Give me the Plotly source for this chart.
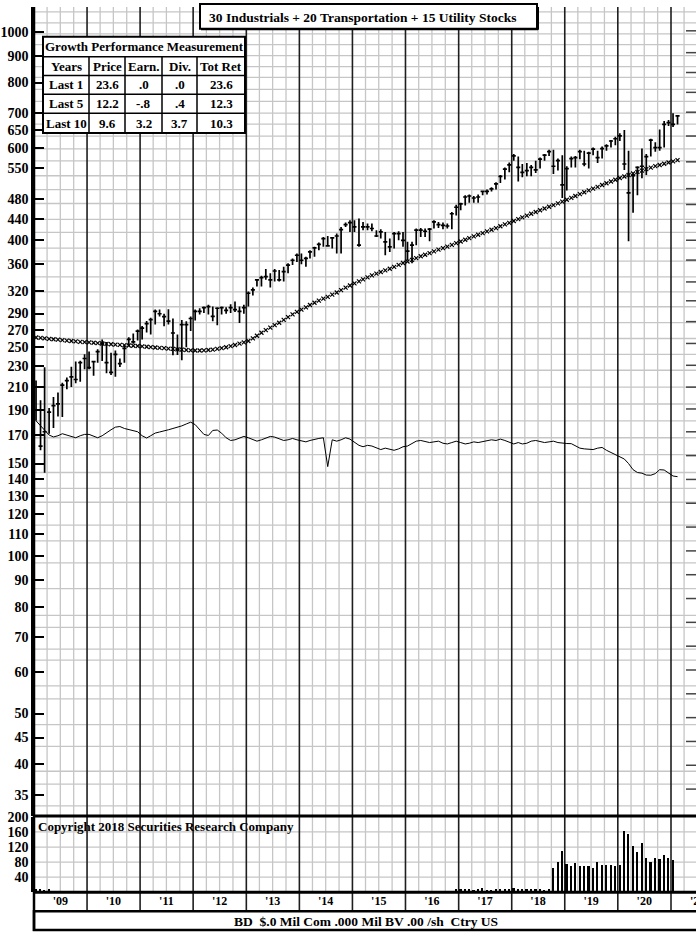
import plotly.graph_objects as go
import pandas as pd

# ---------------- data (monthly, Jan 2009 .. Feb 2021) ----------------
HIGH = [
    216, 198, 229, 191.5, 201, 205, 214, 219, 229.6, 234.8, 235.6, 242.4,          # 2009
    245.3, 235.6, 247.8, 258.8, 256, 244, 246.6, 238, 252.4, 261.3, 265.6, 270.3,  # 2010
    274.4, 280.5, 284.5, 295, 295, 289.7, 295.6, 283.7, 264.5, 281.8, 280.2, 286.1,  # 2011
    295, 296.8, 299.2, 301.3, 299.2, 298, 299.2, 298, 302.2, 305.8, 299.2, 301.3,  # 2012
    319.5, 325.1, 337.6, 342.5, 352.6, 346.1, 352.6, 351, 356.2, 361.5, 369.4, 377.6,  # 2013
    377.6, 372.2, 383.1, 388.7, 396.3, 406, 407.7, 406, 412.1, 424.2, 432.4, 436.8,  # 2014
    436.8, 440.3, 433.6, 430.5, 430.5, 418.3, 420.1, 415, 403, 415, 416.3, 415,  # 2015
    397.3, 397.3, 421.3, 422.4, 421.3, 422.4, 436.8, 433.6, 432.4, 430.5, 452.8, 467.6,  # 2016
    471.7, 487.6, 489.2, 486, 489.2, 498, 500.1, 505, 516.1, 533, 551, 563.2,  # 2017
    584.2, 578, 559.4, 561.8, 557, 567.6, 575.3, 584.2, 595.7, 595.7, 572.8, 581.4,  # 2018
    553.9, 578, 579.5, 595.7, 593.1, 590.5, 601.3, 593.1, 603.9, 610.1, 621.5, 630.4,  # 2019
    640.1, 649.3, 593.1, 535.5, 553.9, 598.6, 584.2, 625, 615.2, 651.2, 675.6, 678.7,  # 2020
    699.4, 693.1,  # 2021
]
LOW = [
    181, 159, 144, 171, 175.4, 184.4, 184, 208, 210, 213.4, 214.9, 227,
    227, 220.5, 233.7, 235.4, 223, 221.4, 219.6, 229.3, 233.7, 251.2, 254, 257.6,
    258.8, 266.7, 264.5, 276.3, 286.1, 274.2, 276.3, 241.3, 241.8, 236.1, 250, 268.5,
    281.2, 288.8, 290.6, 288.8, 280.2, 275.4, 288.8, 289.7, 290.6, 292, 278.3, 289.7,
    299.2, 314, 326.5, 326.5, 336.2, 325.1, 333.7, 333.7, 333.7, 346.1, 358.8, 363.8,
    359.9, 356.2, 369.4, 372.2, 383.1, 388.7, 388.7, 385.7, 377.6, 377.6, 424.2, 415,
    415, 388.7, 418.3, 418.3, 416.3, 406, 403, 374.6, 380.1, 385.7, 400, 388.7,
    366.5, 361.5, 391.6, 406, 406, 398.5, 421.3, 422.4, 420.1, 421.3, 420.1, 446.3,
    456.3, 466.1, 471.7, 471.7, 471.7, 487.6, 489.2, 495.8, 500.1, 514.7, 522.6, 539.4,
    567.6, 518.2, 527.6, 530.3, 530.3, 537.9, 548.2, 567.6, 579.5, 535.5, 543.5, 481.8,
    498, 551, 551, 571.4, 553.9, 548.2, 581.4, 561.8, 572.8, 593.1, 601.3, 607.5,
    618.9, 545, 398.5, 451.4, 487.6, 525.2, 533, 578, 590.5, 593.1, 601.3, 660.7,
    658.1, 665.6,
]
CLOSE = [
    190, 162, 172.5, 188, 193.5, 195, 211.8, 216, 219.6, 217, 233.7, 238,
    228.6, 234.8, 245.3, 254, 233.7, 224, 242.4, 232.7, 248.8, 258.8, 256, 268.5,
    272, 277.5, 282.4, 292.8, 289.7, 286, 280.5, 266.2, 247.8, 276.3, 276.3, 283.7,
    292.8, 292.8, 297.7, 298.8, 286.5, 296.8, 297.7, 294, 297.7, 295, 292.8, 297.7,
    317, 321.8, 336.2, 339.6, 341.1, 336.2, 349.6, 336.2, 348.6, 358.8, 366.5, 374.6,
    366.5, 369.4, 380.1, 387, 392.9, 403, 390.4, 404.3, 407.7, 419.4, 428.5, 432.4,
    424.2, 391.6, 424.2, 424.2, 421.3, 407.7, 415, 397.3, 388.7, 412.1, 412.1, 400,
    381.3, 391.6, 418.3, 418.3, 416.3, 420.1, 433.6, 428.5, 427.2, 426, 449.5, 462.6,
    469.5, 483.9, 486, 481.8, 483.9, 495.8, 495.8, 501.6, 512.5, 529.7, 546.7, 557,
    579.5, 551, 539.4, 543.5, 551, 545, 571.4, 581.4, 590.5, 553.9, 567.6, 510.3,
    548.2, 572.8, 575.3, 590.5, 559.4, 586.9, 597, 575.3, 598.6, 605.7, 618.9, 625,
    632.9, 559.4, 492.8, 531.4, 551, 553.9, 578, 621.5, 601.3, 601.3, 665.6, 671,
    665.6, 691,
]
MOVING_AVG = [
    261, 260.5, 260, 259.5, 259, 258.5, 258, 257.5, 257, 256.5, 256, 255.7,
    255.5, 255, 254.6, 254.2, 253.8, 253.4, 253, 252.7, 252.4, 252, 251.7, 251.4,
    251, 250.6, 250.2, 249.8, 249.4, 249, 248.6, 248.2, 247.8, 247.4, 247, 246.7,
    246.5, 246.5, 246.7, 247, 247.5, 248.2, 249, 250, 251.2, 252.5, 254, 255.5,
    257, 260, 263, 266.5, 269.5, 272.5, 275.5, 278.5, 282, 285.5, 289, 292,
    295, 298, 301, 304, 307, 309.5, 312, 315, 318, 321.5, 325, 328,
    331, 334, 337, 340, 343, 345.5, 348, 350.5, 353, 356, 359, 362,
    364.5, 367, 370, 373, 375.5, 378, 381, 384, 386.5, 389, 392, 395,
    398, 401, 404, 407, 410, 413, 416, 419, 422, 425.5, 429, 432,
    435.5, 439, 442.5, 446, 449.5, 453, 456.5, 460, 463.5, 467, 470.5, 474,
    478, 482, 486, 490, 494, 498, 502, 506, 510, 514, 518, 522,
    526, 529.5, 533, 536.5, 540, 543.5, 547, 550.5, 554, 557, 560, 563,
    566, 569,
]
REL_STRENGTH = [
    181, 177, 173, 170, 168.6, 169.5, 171, 170, 168.5, 168, 169.5, 170.5,
    170.5, 169, 168, 169.5, 172, 174, 176, 176.5, 175, 174, 173.5, 172.5,
    169.5, 167.8, 169.5, 171.5, 172.3, 173, 174, 175, 175.8, 177, 178.5, 179.9,
    178, 174, 170.5, 169.7, 173.5, 173.8, 171.4, 168, 166, 166.5, 168, 169,
    168, 166.5, 165.5, 166.5, 168, 169, 168.5, 167, 166, 166.5, 167.5, 166.5,
    165.5, 165, 166, 167, 167.5, 168, 148, 166.5, 165.5, 166.5, 168, 167,
    165, 162.5, 161.5, 162.5, 162, 160.5, 159.5, 160.5, 160, 159, 160, 161.5,
    162, 164, 165.5, 166, 165.5, 164.5, 165, 165.5, 164, 163.5, 164.5, 165.5,
    164.5, 163.5, 164, 165, 164.5, 165, 166, 166.5, 166, 167, 166, 164.5,
    163.5, 164.5, 163.5, 164, 165.5, 166, 165, 164.5, 165, 165.5, 164.5, 164,
    163.8, 163.7, 162, 160.5, 160, 159.8, 159.5, 160.5, 161, 159, 157.5, 156,
    154.5, 153, 150, 146, 144.2, 143.8, 142.6, 142.5, 143.5, 146, 145.8, 144,
    142, 141.6,
]
VOLUME = [
    8, 10, 7, 9, 5, 3, 3, 4, 3, 3, 3, 3,
    3, 3, 2, 3, 3, 3, 2, 3, 3, 3, 3, 2,
    3, 3, 3, 2, 3, 3, 3, 3, 2, 3, 3, 3,
    3, 2, 3, 3, 3, 3, 2, 3, 3, 3, 3, 3,
    3, 3, 2, 3, 3, 3, 3, 2, 3, 3, 3, 3,
    3, 3, 3, 2, 3, 3, 3, 3, 3, 2, 3, 3,
    3, 2, 3, 3, 3, 3, 2, 3, 3, 3, 3, 3,
    3, 3, 3, 3, 2, 3, 3, 3, 3, 3, 3, 8,
    8, 8, 9, 7, 9, 13, 7, 7, 8, 8, 9, 9,
    11, 10, 10, 9, 9, 8, 8, 7, 9, 66, 80, 110,
    75, 69, 78, 69, 70, 70, 66, 80, 73, 73, 73, 69,
    72, 164, 156, 123, 106, 130, 91, 80, 91, 88, 100, 91,
    87, 2,
]
PRICE_TICKS = [35, 40, 45, 50, 60, 70, 80, 90, 100, 110, 120, 130, 140, 150, 170, 190,
               210, 230, 250, 270, 290, 320, 360, 400, 440, 480, 550, 600, 650, 700, 800, 900, 1000]
VOLUME_TICKS = [40, 80, 120, 160, 200]
YEAR_LABELS = ["'09", "'10", "'11", "'12", "'13", "'14", "'15", "'16", "'17", "'18", "'19", "'20", "'21"]
TITLE = "30 Industrials + 20 Transportation + 15 Utility Stocks"
TABLE_TITLE = "Growth Performance Measurement"
TABLE_HEAD = ["Years", "Price", "Earn.", "Div.", "Tot Ret"]
TABLE_ROWS = [
    ["Last 1", "23.6", ".0", ".0", "23.6"],
    ["Last 5", "12.2", "-.8", ".4", "12.3"],
    ["Last 10", "9.6", "3.2", "3.7", "10.3"],
]
COPYRIGHT = "Copyright 2018 Securities Research Company"
FOOTER = "BD\u00a0 $.0 Mil Com .000 Mil BV .00 /sh\u00a0 Ctry US"

# ---------------- layout helpers ----------------
W, H = 696, 934
L = 34
FONT = "Liberation Serif"
LIGHT = "#c6c6c6"
DARK = "#1e1e1e"
PRICE_BOTTOM, VOL_TOP, VOL_BOTTOM, BAND_BOTTOM, FOOT_BOTTOM = 815, 816, 892, 911, 930
X_START, X_END = "2009-01-01", "2021-06-22"


def xp(px):
    return (px - L) / (W - L)


def yp(py):
    return 1 - py / H


months = pd.date_range("2009-01-01", periods=len(CLOSE), freq="MS") + pd.Timedelta(days=14)
mid_years = pd.date_range("2009-07-01", periods=12, freq="12MS")

fig = go.Figure()
fig.add_trace(go.Ohlc(
    x=months, open=CLOSE, high=HIGH, low=LOW, close=CLOSE,
    increasing=dict(line=dict(color="black", width=1.7)),
    decreasing=dict(line=dict(color="black", width=1.7)),
    tickwidth=0.5, xaxis="x", yaxis="y", hoverinfo="skip"))
fig.add_trace(go.Scatter(
    x=months, y=MOVING_AVG, mode="markers", xaxis="x", yaxis="y",
    marker=dict(symbol="x-thin", size=4, color="black", line=dict(width=1.2, color="black"))))
fig.add_trace(go.Scatter(
    x=months, y=REL_STRENGTH, mode="lines", xaxis="x", yaxis="y",
    line=dict(color="black", width=1)))
fig.add_trace(go.Bar(
    x=months, y=VOLUME, width=1.0e9, xaxis="x2", yaxis="y2",
    marker=dict(color="black", line=dict(width=0))))

shapes = []
# light quarterly verticals
for yr in range(2009, 2022):
    for m in (4, 7, 10):
        d = pd.Timestamp(yr, m, 1)
        if d <= pd.Timestamp(X_END):
            shapes.append(dict(type="line", xref="x", yref="paper", x0=d, x1=d,
                               y0=yp(VOL_BOTTOM), y1=1, layer="below",
                               line=dict(color=LIGHT, width=1.3)))
# light horizontals in price panel (paper grid)
GRID_PX = [5, 16, 27, 38, 49, 60, 71, 83, 95, 107, 118, 130, 143, 155, 170, 184, 198, 214,
           227, 243, 256, 272, 287, 302, 318, 334, 350, 366, 383, 400, 417, 434, 451, 469,
           485, 499, 522, 538, 560, 586, 613, 625, 647, 658, 684, 697, 723, 745, 770, 783, 805]
for g in GRID_PX:
    shapes.append(dict(type="line", xref="paper", yref="paper", x0=0, x1=1,
                       y0=yp(g), y1=yp(g), layer="below", line=dict(color=LIGHT, width=1.3)))
for v in VOLUME_TICKS[:-1]:
    shapes.append(dict(type="line", xref="paper", yref="y2", x0=0, x1=1, y0=v, y1=v,
                       layer="below", line=dict(color=LIGHT, width=1.3)))
# dark year lines
for yr in range(2010, 2022):
    d = pd.Timestamp(yr, 1, 1)
    shapes.append(dict(type="line", xref="x", yref="paper", x0=d, x1=d,
                       y0=yp(BAND_BOTTOM), y1=1, layer="below",
                       line=dict(color=DARK, width=1.6)))
# right-edge ticks
RIGHT_TICK_PX = [24, 46, 66, 86, 106, 130, 156, 183, 199, 217, 235, 255, 277, 296, 317, 339,
                 361, 383, 405, 428, 452, 476, 500, 524, 548, 572, 596, 620, 644, 668, 692,
                 716, 740, 764, 788]
for t in RIGHT_TICK_PX:
    shapes.append(dict(type="line", xref="paper", yref="paper", x0=xp(686), x1=1,
                       y0=yp(t), y1=yp(t), layer="above", line=dict(color="#444", width=1.5)))
# panel borders
for py, wdt in ((PRICE_BOTTOM, 3), (VOL_BOTTOM, 3), (BAND_BOTTOM, 2.5)):
    shapes.append(dict(type="line", xref="paper", yref="paper", x0=xp(L - 1), x1=1.01,
                       y0=yp(py), y1=yp(py), layer="above", line=dict(color="black", width=wdt)))
# footer box
shapes.append(dict(type="rect", xref="paper", yref="paper", x0=0, x1=1.02,
                   y0=yp(FOOT_BOTTOM), y1=yp(BAND_BOTTOM), layer="above",
                   fillcolor="white", line=dict(color="black", width=2.5)))
shapes.append(dict(type="line", xref="paper", yref="paper", x0=0, x1=0,
                   y0=yp(FOOT_BOTTOM + 1), y1=1, layer="above", line=dict(color="black", width=2.5)))
# title box
shapes.append(dict(type="rect", xref="paper", yref="paper", x0=xp(200), x1=xp(537),
                   y0=yp(22), y1=yp(-3), layer="above",
                   fillcolor="white", line=dict(color="black", width=2)))
shapes.append(dict(type="line", xref="paper", yref="paper", x0=xp(201), x1=xp(538),
                   y0=yp(22.5), y1=yp(22.5), layer="above", line=dict(color="black", width=2)))
shapes.append(dict(type="line", xref="paper", yref="paper", x0=xp(538), x1=xp(538),
                   y0=yp(23), y1=1, layer="above", line=dict(color="black", width=2)))
# table
TX = [43, 89, 125, 162, 197, 245]
TY = [30, 50, 69, 88, 107, 127]
shapes.append(dict(type="rect", xref="paper", yref="paper", x0=xp(TX[0]), x1=xp(TX[-1]),
                   y0=yp(TY[-1]), y1=yp(TY[0]), layer="above",
                   fillcolor="white", line=dict(color="black", width=2)))
for ty in TY[1:-1]:
    shapes.append(dict(type="line", xref="paper", yref="paper", x0=xp(TX[0]), x1=xp(TX[-1]),
                       y0=yp(ty), y1=yp(ty), layer="above", line=dict(color="black", width=1.5)))
for tx in TX[1:-1]:
    shapes.append(dict(type="line", xref="paper", yref="paper", x0=xp(tx), x1=xp(tx),
                       y0=yp(TY[-1]), y1=yp(TY[1]), layer="above", line=dict(color="black", width=1.5)))

annotations = []
bold = dict(family=FONT, size=13, color="black", weight="bold")
annotations.append(dict(text=TITLE, xref="paper", yref="paper", x=xp(207), y=yp(11),
                        xanchor="left", yanchor="middle", showarrow=False,
                        font=dict(family=FONT, size=13.5, color="black", weight="bold")))
annotations.append(dict(text=TABLE_TITLE, xref="paper", yref="paper",
                        x=xp((TX[0] + TX[-1]) / 2), y=yp((TY[0] + TY[1]) / 2),
                        xanchor="center", yanchor="middle", showarrow=False, font=bold))
for r, row in enumerate([TABLE_HEAD] + TABLE_ROWS):
    for c, txt in enumerate(row):
        annotations.append(dict(text=txt, xref="paper", yref="paper",
                                x=xp((TX[c] + TX[c + 1]) / 2), y=yp((TY[r + 1] + TY[r + 2]) / 2),
                                xanchor="center", yanchor="middle", showarrow=False, font=bold))
annotations.append(dict(text=COPYRIGHT, xref="paper", yref="paper", x=xp(36), y=yp(826),
                        xanchor="left", yanchor="middle", showarrow=False, font=bold))
annotations.append(dict(text=FOOTER, xref="paper", yref="paper", x=xp(366), y=yp(921),
                        xanchor="center", yanchor="middle", showarrow=False,
                        font=dict(family=FONT, size=13.5, color="black", weight="bold")))
annotations.append(dict(text=YEAR_LABELS[-1], xref="paper", yref="paper", x=xp(697.5), y=yp(901),
                        xanchor="center", yanchor="middle", showarrow=False,
                        font=dict(family=FONT, size=12, color="black", weight="bold")))

fig.update_layout(
    width=W, height=H, margin=dict(l=L, r=0, t=0, b=0),
    paper_bgcolor="white", plot_bgcolor="white", showlegend=False, bargap=0,
    xaxis=dict(domain=[0, 1], range=[X_START, X_END], type="date", anchor="y",
               showgrid=False, zeroline=False, showticklabels=False, ticks="",
               rangeslider=dict(visible=False)),
    yaxis=dict(domain=[yp(PRICE_BOTTOM), 1], type="log",
               range=[3.0473 - PRICE_BOTTOM / 528, 3.0473], anchor="x",
               tickvals=PRICE_TICKS, ticktext=[str(v) for v in PRICE_TICKS],
               ticks="inside", ticklen=10, tickwidth=2, tickcolor="black",
               showline=True, linewidth=2.5, linecolor="black", showgrid=False, zeroline=False,
               tickfont=dict(family=FONT, size=14, color="black", weight="bold")),
    xaxis2=dict(domain=[0, 1], range=[X_START, X_END], type="date", anchor="y2",
                showgrid=False, zeroline=False, ticks="",
                tickvals=mid_years, ticktext=YEAR_LABELS[:-1],
                tickfont=dict(family=FONT, size=12, color="black", weight="bold")),
    yaxis2=dict(domain=[yp(VOL_BOTTOM), yp(VOL_TOP)], range=[0, 200], anchor="x2",
                tickvals=VOLUME_TICKS, ticktext=[str(v) for v in VOLUME_TICKS], ticks="",
                showline=True, linewidth=2.5, linecolor="black", showgrid=False, zeroline=False,
                tickfont=dict(family=FONT, size=14, color="black", weight="bold")),
    shapes=shapes, annotations=annotations,
)

fig.write_html("out.html", config={"displayModeBar": False},
               post_script="document.body.style.margin='0px';")
